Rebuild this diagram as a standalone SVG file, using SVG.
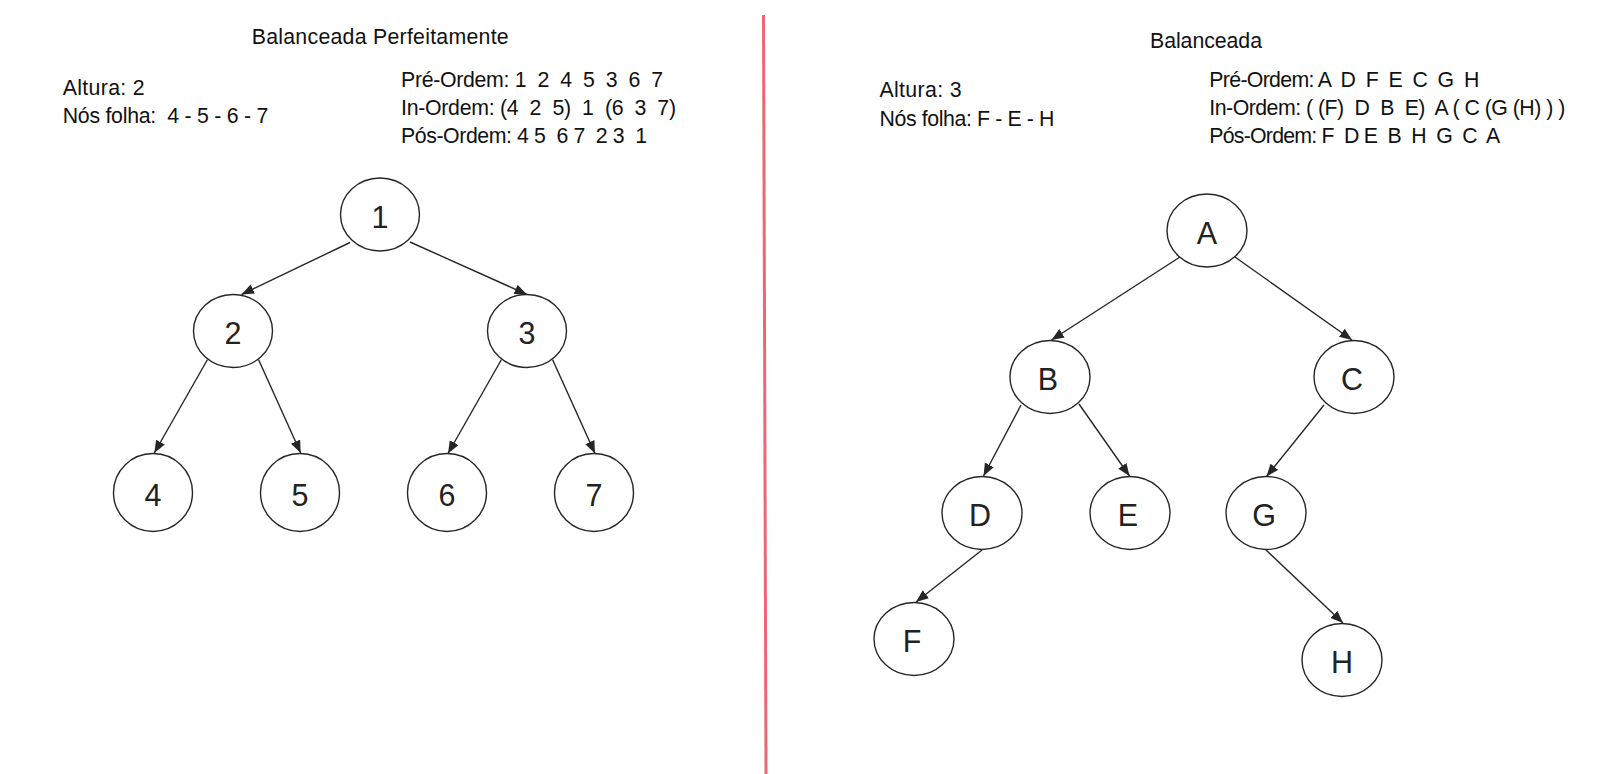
<svg xmlns="http://www.w3.org/2000/svg" width="1606" height="774" viewBox="0 0 1606 774">
<style>
.hdr{font-family:"Liberation Sans",Arial,sans-serif;font-size:21.3px;fill:#111;white-space:pre}
.node ellipse{fill:#fff;stroke:#262626;stroke-width:1.4}
.node text{font-family:"Liberation Sans",Arial,sans-serif;font-size:30.5px;fill:#222;text-anchor:middle}
.edges line{stroke:#262626;stroke-width:1.4;marker-end:url(#arr)}
</style>
<defs>
<marker id="arr" markerUnits="userSpaceOnUse" markerWidth="14" markerHeight="12" refX="12.5" refY="5" orient="auto">
<path d="M0,0 L12.5,5 L0,10 z" fill="#262626"/>
</marker>
</defs>
<rect width="1606" height="774" fill="#fff"/>
<line x1="763.5" y1="15" x2="766" y2="774" stroke="#ea4b5a" stroke-width="3" stroke-opacity="0.85"/>
<g id="texts-left">
<text class="hdr" x="251.7" y="44" textLength="257" lengthAdjust="spacing">Balanceada Perfeitamente</text>
<text class="hdr" x="62.7" y="95" textLength="82" lengthAdjust="spacing">Altura: 2</text>
<text class="hdr" x="62.7" y="123.3" textLength="205.6" lengthAdjust="spacing">Nós folha:  4 - 5 - 6 - 7</text>
<text class="hdr" x="401" y="86.5" textLength="262" lengthAdjust="spacing">Pré-Ordem: 1  2  4  5  3  6  7</text>
<text class="hdr" x="401" y="115" textLength="275" lengthAdjust="spacing">In-Ordem: (4  2  5)  1  (6  3  7)</text>
<text class="hdr" x="401" y="143.3" textLength="246" lengthAdjust="spacing">Pós-Ordem: 4 5  6 7  2 3  1</text>
</g>
<g id="texts-right">
<text class="hdr" x="1150" y="48.4" textLength="112" lengthAdjust="spacing">Balanceada</text>
<text class="hdr" x="879.5" y="97" textLength="82" lengthAdjust="spacing">Altura: 3</text>
<text class="hdr" x="879.5" y="125.5" textLength="175" lengthAdjust="spacing">Nós folha: F - E - H</text>
<text class="hdr" x="1209.3" y="86.5" textLength="270" lengthAdjust="spacing">Pré-Ordem: A  D  F  E  C  G  H</text>
<text class="hdr" x="1209.3" y="115" textLength="356" lengthAdjust="spacing">In-Ordem: ( (F)  D  B  E)  A ( C (G (H) ) )</text>
<text class="hdr" x="1209.3" y="143.3" textLength="291" lengthAdjust="spacing">Pós-Ordem: F  D E  B  H  G  C  A</text>
</g>
<g id="connectors" class="edges">
<line x1="350" y1="242.5" x2="241.5" y2="294.5"/>
<line x1="410" y1="242" x2="527" y2="294.5"/>
<line x1="207.5" y1="359.5" x2="154.3" y2="453"/>
<line x1="258.5" y1="359.5" x2="300.7" y2="453"/>
<line x1="501.5" y1="359.5" x2="448" y2="453.5"/>
<line x1="552.5" y1="359.5" x2="595" y2="453.5"/>
<line x1="1180" y1="257" x2="1051.5" y2="340"/>
<line x1="1235" y1="257" x2="1352" y2="340"/>
<line x1="1021" y1="405" x2="983.5" y2="476"/>
<line x1="1079" y1="404" x2="1129.5" y2="476"/>
<line x1="1324" y1="405" x2="1266.5" y2="476.5"/>
<line x1="982" y1="550" x2="916" y2="602"/>
<line x1="1266" y1="550" x2="1343" y2="623"/>
</g>
<g id="n1" class="node"><ellipse cx="380" cy="214.5" rx="39.5" ry="36.5"/><text x="380" y="227.5">1</text></g>
<g id="n2" class="node"><ellipse cx="233" cy="331" rx="39.5" ry="36.5"/><text x="233" y="344">2</text></g>
<g id="n3" class="node"><ellipse cx="527" cy="331" rx="39.5" ry="36.5"/><text x="527" y="344">3</text></g>
<g id="n4" class="node"><ellipse cx="153" cy="492.5" rx="39.5" ry="39"/><text x="153" y="505.5">4</text></g>
<g id="n5" class="node"><ellipse cx="300" cy="492.5" rx="39.5" ry="39"/><text x="300" y="505.5">5</text></g>
<g id="n6" class="node"><ellipse cx="447" cy="492.5" rx="39.5" ry="39"/><text x="447" y="505.5">6</text></g>
<g id="n7" class="node"><ellipse cx="594" cy="492.5" rx="39.5" ry="39"/><text x="594" y="505.5">7</text></g>
<g id="nA" class="node"><ellipse cx="1207" cy="230.5" rx="40" ry="36.5"/><text x="1207" y="243.5">A</text></g>
<g id="nB" class="node"><ellipse cx="1050" cy="377" rx="40" ry="36.5"/><text x="1048" y="390">B</text></g>
<g id="nC" class="node"><ellipse cx="1354" cy="377" rx="40" ry="36.5"/><text x="1352" y="390">C</text></g>
<g id="nD" class="node"><ellipse cx="982" cy="513" rx="40" ry="36.5"/><text x="980" y="526">D</text></g>
<g id="nE" class="node"><ellipse cx="1130" cy="513" rx="40" ry="36.5"/><text x="1128" y="526">E</text></g>
<g id="nG" class="node"><ellipse cx="1266" cy="513" rx="40" ry="36.5"/><text x="1264" y="526">G</text></g>
<g id="nF" class="node"><ellipse cx="914" cy="639" rx="40" ry="36.5"/><text x="912" y="652">F</text></g>
<g id="nH" class="node"><ellipse cx="1342" cy="660" rx="40" ry="36.5"/><text x="1342" y="673">H</text></g>
</svg>
